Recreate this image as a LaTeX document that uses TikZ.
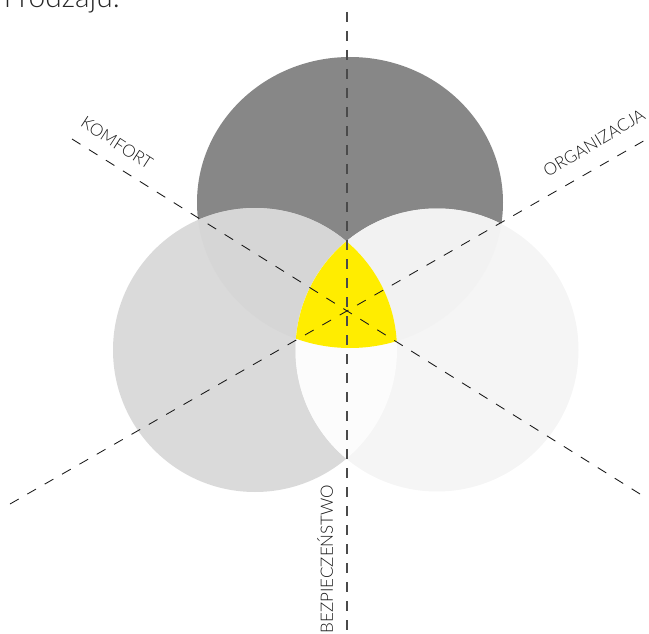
\documentclass[tikz,border=0pt]{standalone}
\usepackage{fontspec}
\setmainfont{Lato Light}
\definecolor{topgray}{HTML}{878787}
\definecolor{leftgray}{HTML}{DADADA}
\definecolor{rightgray}{HTML}{F5F5F5}
\definecolor{tlgray}{HTML}{D6D6D6}
\definecolor{trgray}{HTML}{F2F2F2}
\definecolor{lrwhite}{HTML}{FCFCFC}
\definecolor{venyellow}{HTML}{FFED00}
\definecolor{axisgray}{HTML}{4A4A4A}
\tikzset{
  axisline/.style={draw=axisgray, line width=1.2pt, dash pattern=on 10pt off 9pt},
  diagline/.style={draw=black!90, line width=0.85pt, dash pattern=on 10pt off 10pt},
  axislabel/.style={inner sep=0pt, font=\fontsize{17}{19}\selectfont, text=black!90}
}
\begin{document}
\begin{tikzpicture}[x=1pt,y=-1pt]
\useasboundingbox (0,0) rectangle (649,634);
% circles
\fill[topgray] (350,202.5) ellipse [x radius=153pt, y radius=145.5pt];
\fill[leftgray] (255,350) circle [radius=142pt];
\fill[rightgray] (437,350) circle [radius=141.5pt];
\begin{scope}
  \clip (350,202.5) ellipse [x radius=153pt, y radius=145.5pt];
  \fill[tlgray] (255,350) circle [radius=142pt];
  \fill[trgray] (437,350) circle [radius=141.5pt];
\end{scope}
\begin{scope}
  \clip (255,350) circle [radius=142pt];
  \fill[lrwhite] (437,350) circle [radius=141.5pt];
  \clip (437,350) circle [radius=141.5pt];
  \fill[venyellow] (350,202.5) ellipse [x radius=153pt, y radius=145.5pt];
\end{scope}
% axis end points
\coordinate (vtop) at (347,12);
\coordinate (vbot) at (347,634);
\coordinate (kA) at (72,139);
\coordinate (kB) at (640,494);
\coordinate (oA) at (10,504);
\coordinate (oB) at (647,139);
\draw[axisline] (vtop) -- (vbot);
\draw[diagline] (kA) -- (kB);
\draw[diagline] (oA) -- (oB);
% labels
\node[axislabel, rotate=-33] (komfort) at (117,143) {KOMFORT};
\node[axislabel, rotate=31] (organizacja) at (594,143) {ORGANIZACJA};
\node[axislabel, rotate=90] (bezp) at (325,559) {BEZPIECZEŃSTWO};
\node[anchor=base west, inner sep=0pt, font=\fontsize{30}{32}\selectfont, text=black!85] (heading) at (-6,8) {n rodzaju.};
\end{tikzpicture}
\end{document}
